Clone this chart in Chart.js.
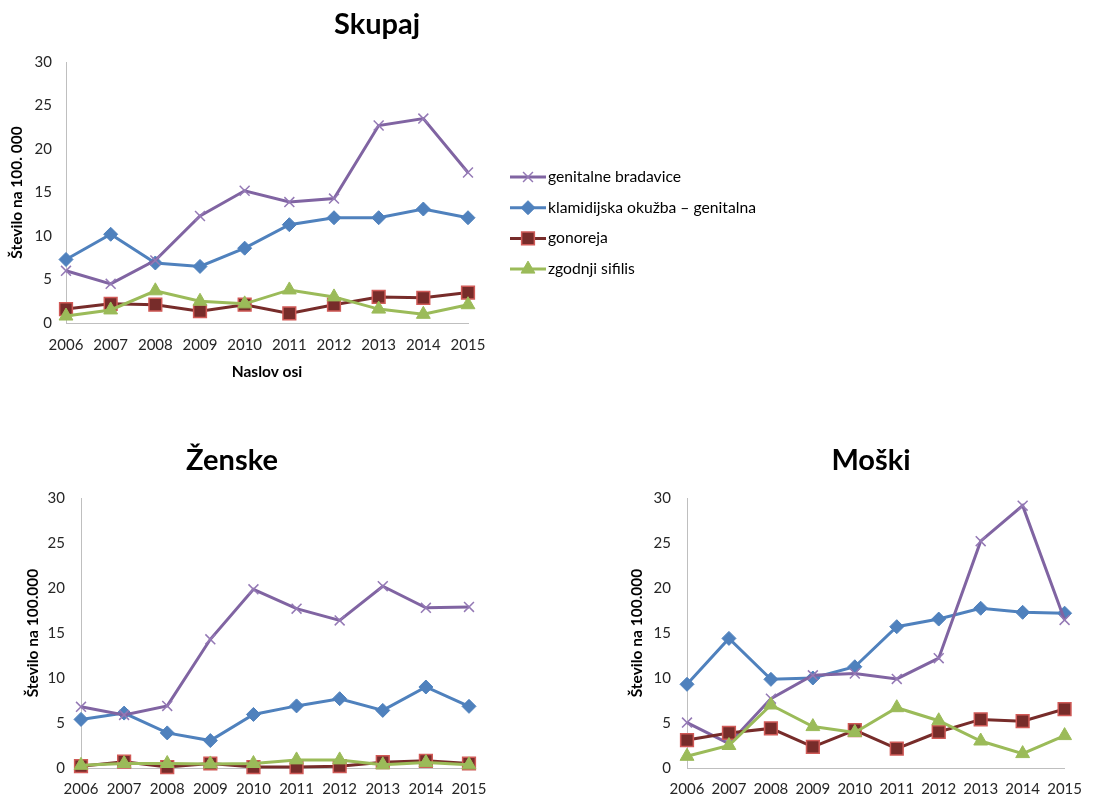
<!DOCTYPE html>
<html>
<head>
<meta charset="utf-8">
<script src="https://cdn.jsdelivr.net/npm/chart.js@4.4.1/dist/chart.umd.min.js"></script>
<style>
  html, body { margin: 0; padding: 0; background: #fff; overflow: hidden; width: 1094px; height: 796px; }
  canvas { position: absolute; }
</style>
</head>
<body>
<canvas id="skupaj" width="780" height="400" style="left:0;top:0"></canvas>
<canvas id="zenske" width="540" height="400" style="left:0;top:430px"></canvas>
<canvas id="moski" width="534" height="400" style="left:560px;top:430px"></canvas>
<script>
// categories
const years = ['2006', '2007', '2008', '2009', '2010', '2011', '2012', '2013', '2014', '2015'];
const seriesNames = ['genitalne bradavice', 'klamidijska okužba – genitalna', 'gonoreja', 'zgodnji sifilis'];
const yTicks = [0, 5, 10, 15, 20, 25, 30];

// Skupaj
const skupajBradavice = [6.0, 4.5, 7.2, 12.3, 15.2, 13.9, 14.3, 22.7, 23.5, 17.3];
const skupajKlamidija = [7.3, 10.2, 6.9, 6.5, 8.6, 11.3, 12.1, 12.1, 13.1, 12.1];
const skupajGonoreja = [1.6, 2.2, 2.1, 1.35, 2.1, 1.1, 2.1, 3.0, 2.9, 3.5];
const skupajSifilis = [0.8, 1.5, 3.7, 2.5, 2.2, 3.8, 3.0, 1.6, 1.0, 2.1];

// Ženske
const zenskeBradavice = [6.8, 5.9, 6.9, 14.3, 19.85, 17.7, 16.4, 20.2, 17.8, 17.9];
const zenskeKlamidija = [5.4, 6.1, 3.9, 3.05, 5.95, 6.9, 7.7, 6.4, 9.0, 6.85];
const zenskeGonoreja = [0.2, 0.7, 0.1, 0.5, 0.1, 0.1, 0.2, 0.65, 0.8, 0.5];
const zenskeSifilis = [0.3, 0.5, 0.5, 0.45, 0.5, 0.9, 0.9, 0.35, 0.6, 0.35];

// Moški
const moskiBradavice = [5.05, 2.7, 7.7, 10.3, 10.5, 9.9, 12.2, 25.2, 29.15, 16.45];
const moskiKlamidija = [9.3, 14.4, 9.85, 10.0, 11.25, 15.7, 16.55, 17.75, 17.3, 17.2];
const moskiGonoreja = [3.1, 3.9, 4.4, 2.35, 4.2, 2.15, 4.0, 5.4, 5.2, 6.55];
const moskiSifilis = [1.3, 2.5, 7.0, 4.6, 3.95, 6.7, 5.25, 3.0, 1.6, 3.6];

const FONT = 'Lato';
Chart.defaults.font.family = FONT;
Chart.defaults.color = '#262626';

// series look, Excel 2007 palette
const looks = [
  { color: '#8064a2', pointStyle: 'crossRot', radius: 7, bg: '#8064a2', border: '#9479b5', bw: 1.5, order: 3 },
  { color: '#4f81bd', pointStyle: 'rectRot', radius: 7, bg: '#4f81bd', border: '#4f81bd', bw: 1, order: 4 },
  { color: '#772c2a', pointStyle: 'rect', radius: 9, bg: '#772c2a', border: '#d05a57', bw: 1.5, order: 2 },
  { color: '#9bbb59', pointStyle: 'triangle', radius: 8, bg: '#9bbb59', border: '#9bbb59', bw: 1, order: 1 }
];

function makeSets(values) {
  return values.map((v, i) => ({
    label: seriesNames[i],
    data: v,
    borderColor: looks[i].color,
    borderWidth: 3,
    tension: 0,
    pointStyle: looks[i].pointStyle,
    pointRadius: looks[i].radius,
    pointBackgroundColor: looks[i].bg,
    pointBorderColor: looks[i].border,
    pointBorderWidth: looks[i].bw,
    order: looks[i].order,
    clip: false
  }));
}

// title and legend drawn where Excel put them
const excelDeco = {
  id: 'excelDeco',
  afterDraw(chart, args, opts) {
    const ctx = chart.ctx;
    ctx.save();
    if (opts.title) {
      ctx.font = 'bold 29px ' + FONT;
      ctx.fillStyle = '#000';
      ctx.textAlign = 'center';
      ctx.textBaseline = 'middle';
      ctx.fillText(opts.title.text, opts.title.x, opts.title.y);
    }
    if (opts.legend) {
      const lg = opts.legend;
      chart.data.datasets.forEach((ds, i) => {
        const y = lg.y + i * lg.step;
        ctx.strokeStyle = ds.borderColor;
        ctx.lineWidth = ds.borderWidth;
        ctx.beginPath();
        ctx.moveTo(lg.x, y);
        ctx.lineTo(lg.x + lg.len, y);
        ctx.stroke();
        ctx.fillStyle = ds.pointBackgroundColor;
        ctx.strokeStyle = ds.pointBorderColor;
        ctx.lineWidth = ds.pointBorderWidth;
        Chart.helpers.drawPoint(ctx, {
          pointStyle: ds.pointStyle, radius: ds.pointRadius, borderWidth: ds.pointBorderWidth, rotation: 0
        }, lg.x + lg.len / 2, y);
        ctx.font = '15.7px ' + FONT;
        ctx.fillStyle = '#000';
        ctx.textAlign = 'left';
        ctx.textBaseline = 'middle';
        ctx.fillText(ds.label, lg.x + lg.len + 2, y);
      });
    }
    ctx.restore();
  }
};

function excelChart(id, sets, cfg) {
  return new Chart(document.getElementById(id), {
    type: 'line',
    data: { labels: years, datasets: makeSets(sets) },
    plugins: [excelDeco],
    options: {
      responsive: false,
      animation: false,
      layout: { padding: cfg.padding },
      plugins: {
        legend: { display: false },
        tooltip: { enabled: false },
        excelDeco: { title: cfg.title, legend: cfg.legend }
      },
      scales: {
        x: {
          offset: false,
          grid: { display: false, drawTicks: false },
          border: { display: true, color: '#bfbfbf', width: 1 },
          ticks: { font: { size: 15 }, padding: cfg.xPad, maxRotation: 0, autoSkip: false },
          title: {
            display: !!cfg.xTitle, text: cfg.xTitle || '',
            font: { size: 15.5, weight: 'bold' }, color: '#000',
            padding: { top: 0, bottom: cfg.xTitlePad || 0 }
          },
          afterFit: s => { s.height = cfg.xHeight; }
        },
        y: {
          min: 0, max: 30,
          afterBuildTicks: s => { s.ticks = yTicks.map(v => ({ value: v })); },
          grid: { display: false, drawTicks: false },
          border: { display: true, color: '#bfbfbf', width: 1 },
          ticks: { font: { size: 15 }, padding: cfg.yPad },
          title: {
            display: true, text: cfg.yTitle,
            font: { size: 15.5, weight: 'bold' }, color: '#000',
            padding: { top: cfg.yTitlePad, bottom: 0 }
          },
          afterFit: s => { s.width = cfg.yWidth; }
        }
      }
    }
  });
}

excelChart('skupaj', [skupajBradavice, skupajKlamidija, skupajGonoreja, skupajSifilis], {
  padding: { left: 4, top: 62, right: 312, bottom: 17 },
  yWidth: 62, yTitlePad: 3.5, yPad: 14,
  xHeight: 60, xPad: 13, xTitle: 'Naslov osi', xTitlePad: 1.7,
  yTitle: 'Število na 100. 000',
  title: { text: 'Skupaj', x: 377, y: 25 },
  legend: { x: 510, y: 177, step: 30.7, len: 36 }
});

excelChart('zenske', [zenskeBradavice, zenskeKlamidija, zenskeGonoreja, zenskeSifilis], {
  padding: { left: 20, top: 68, right: 71, bottom: 22 },
  yWidth: 61, yTitlePad: 3.7, yPad: 16,
  xHeight: 40, xPad: 12,
  yTitle: 'Število na 100.000',
  title: { text: 'Ženske', x: 232, y: 31 }
});

excelChart('moski', [moskiBradavice, moskiKlamidija, moskiGonoreja, moskiSifilis], {
  padding: { left: 64, top: 68, right: 20, bottom: 22 },
  yWidth: 63, yTitlePad: 3.7, yPad: 16,
  xHeight: 40, xPad: 12,
  yTitle: 'Število na 100.000',
  title: { text: 'Moški', x: 311, y: 31 }
});
</script>
</body>
</html>
